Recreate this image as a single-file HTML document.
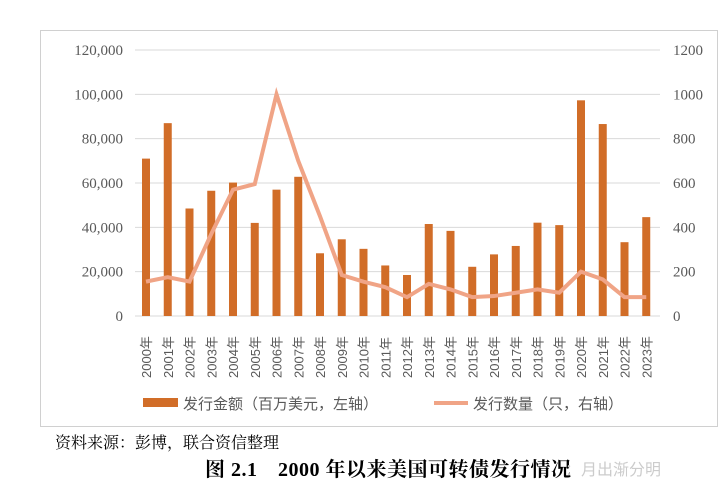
<!DOCTYPE html>
<html><head><meta charset="utf-8"><style>
body{margin:0;width:726px;height:490px;background:#fff;overflow:hidden;font-family:"Liberation Serif","Noto Serif CJK SC",serif;}
#box{position:absolute;left:40px;top:30px;width:678px;height:397px;border:1px solid #d0d0d0;box-sizing:border-box;}
#src{position:absolute;left:55px;top:430px;font-size:16px;color:#000;}
#title{position:absolute;left:205px;top:453px;font-size:20px;font-weight:bold;color:#000;letter-spacing:0.5px;}
#wm{position:absolute;left:565px;top:456px;font-size:16px;color:#ccc;font-family:"Liberation Sans","Noto Sans CJK SC",sans-serif;}
</style></head><body>
<div id="box"></div>
<svg id="chart" width="726" height="490" style="position:absolute;left:0;top:0"></svg>
<div id="src">资料来源：彭博，联合资信整理</div>
<div id="title">图 2.1　2000 年以来美国可转债发行情况</div>
<div id="wm">：月出渐分明</div>
<script>
const years=["2000","2001","2002","2003","2004","2005","2006","2007","2008","2009","2010","2011","2012","2013","2014","2015","2016","2017","2018","2019","2020","2021","2022","2023"];
const amounts=[71000,87000,48500,56500,60200,42000,57000,62800,28300,34600,30300,22800,18500,41500,38400,22200,27800,31600,42100,41000,97300,86600,33300,44600];
const counts=[155,175,155,370,570,595,1000,700,450,185,155,130,85,145,120,85,90,105,120,105,200,165,85,85];
const leftTicks=[0,20000,40000,60000,80000,100000,120000];
const rightTicks=[0,200,400,600,800,1000,1200];
const NS="http://www.w3.org/2000/svg";
const svg=document.getElementById('chart');
const y0=316,y1=50,xL=135,xR=660,x0=146,dx=21.75;
const yL=v=>y0-(v/120000)*(y0-y1);
const yR=v=>y0-(v/1200)*(y0-y1);
const xC=i=>x0+i*dx;
function mk(t,a){const e=document.createElementNS(NS,t);for(const k in a)e.setAttribute(k,a[k]);svg.appendChild(e);return e;}
leftTicks.forEach((t,i)=>{
 const g=mk('line',{x1:xL,x2:xR,y1:yL(t),y2:yL(t),stroke:'#d9d9d9','stroke-width':1});
 
 
 const l=mk('text',{x:123,y:yL(t)+5,'text-anchor':'end','font-size':15,fill:'#595959'});
 l.textContent=t.toLocaleString('en-US');
 
 
});
rightTicks.forEach(t=>{
 const l=mk('text',{x:673,y:yR(t)+5,'font-size':15,fill:'#595959'});
 l.textContent=t;
 
 
});
amounts.forEach((v,i)=>{
 const b=mk('rect',{x:xC(i)-4,y:yL(v),width:8,height:y0-yL(v),fill:'#d16d28'});
 
 
});
years.forEach((yr,i)=>{
 const t=mk('text',{transform:`translate(${xC(i)+5},378) rotate(-90)`,'font-size':13,fill:'#595959','font-family':'Liberation Sans, Noto Sans CJK SC, sans-serif'});
 t.textContent=yr+'年';
 
 
});
const p=mk('polyline',{points:counts.map((v,i)=>xC(i)+','+yR(v)).join(' '),fill:'none',stroke:'#f0a486','stroke-width':4,'stroke-linejoin':'miter'});


const s1=mk('rect',{x:143,y:398,width:35,height:9,fill:'#d16d28'});


const t1=mk('text',{x:183,y:409,'font-size':15,fill:'#595959','font-family':'Liberation Sans, Noto Sans CJK SC, sans-serif'});
t1.textContent='发行金额（百万美元，左轴）';


const s2=mk('line',{x1:434,x2:468,y1:403,y2:403,stroke:'#f0a486','stroke-width':4});


const t2=mk('text',{x:473,y:409,'font-size':15,fill:'#595959','font-family':'Liberation Sans, Noto Sans CJK SC, sans-serif'});
t2.textContent='发行数量（只，右轴）';


</script>
</body></html>
